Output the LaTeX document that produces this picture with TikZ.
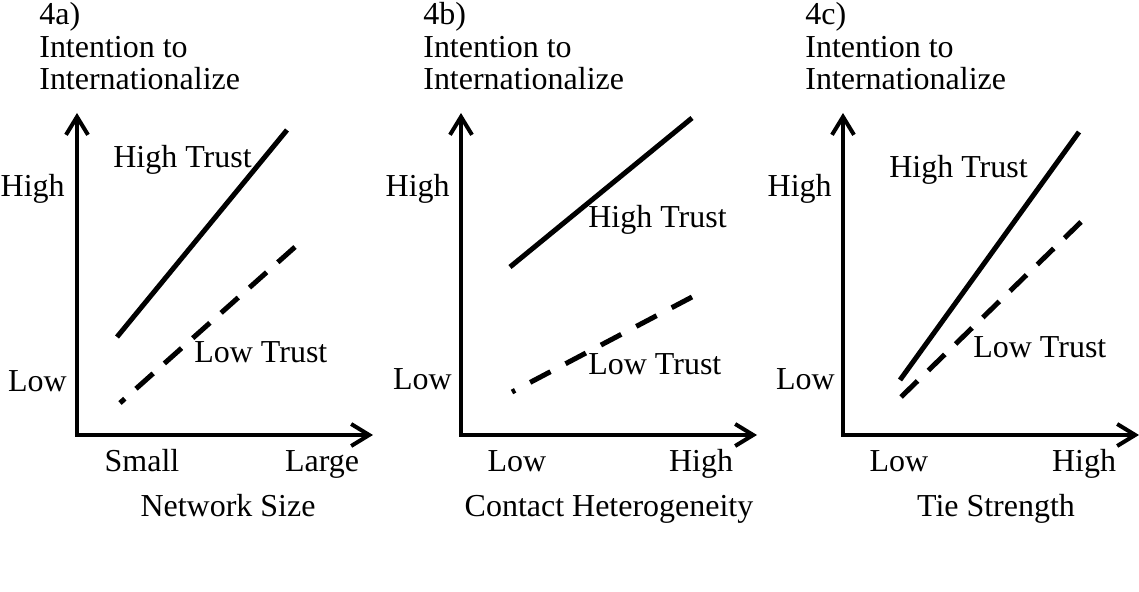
\documentclass[tikz,border=0pt]{standalone}
\usepackage{fontspec}
\setmainfont{Liberation Serif}
\usetikzlibrary{arrows.meta}

\begin{document}
\begin{tikzpicture}[
    axis/.style={line width=0.08cm,{Straight Barb[length=0.36cm,width=0.44cm]}-{Straight Barb[length=0.36cm,width=0.44cm]}},
    hightrust/.style={line width=0.1cm},
    lowtrust/.style={line width=0.1cm,dash pattern=on 0.46cm off 0.3cm},
    lbl/.style={inner sep=0pt,font=\fontsize{18.2}{20}\selectfont},
]
    \useasboundingbox (0,0) rectangle (22.78,11.84);

    % 4a) network size
    \begin{scope}[shift={(1.54,3.14)}]
        \coordinate (ao) at (0,0);
        \coordinate (ax) at (5.92,0);
        \coordinate (ay) at (0,6.44);
        \draw[axis] (ay) |- (ax);
        \coordinate (ah1) at (0.8,1.96);
        \coordinate (ah2) at (4.2,6.1);
        \coordinate (al1) at (0.86,0.64);
        \coordinate (al2) at (4.36,3.76);
        \draw[hightrust] (ah1) -- (ah2);
        \draw[lowtrust] (al2) -- (al1);
        \node[lbl,anchor=base west] (ahtxt) at (0.72,5.34) {High Trust};
        \node[lbl,anchor=base west] (altxt) at (2.34,1.44) {Low Trust};
        \node[lbl,anchor=base east] (ayhi) at (-0.24,4.76) {High};
        \node[lbl,anchor=base east] (aylo) at (-0.2,0.86) {Low};
        \node[lbl,anchor=base] (axlo) at (1.3,-0.74) {Small};
        \node[lbl,anchor=base] (axhi) at (4.9,-0.74) {Large};
        \node[lbl,anchor=base] (axname) at (3.02,-1.64) {Network Size};
        \node[lbl,anchor=base west] (atag) at (-0.76,8.2) {4a)};
        \node[lbl,anchor=base west] (ay1) at (-0.76,7.54) {Intention to};
        \node[lbl,anchor=base west] (ay2) at (-0.76,6.9) {Internationalize};
    \end{scope}

    % 4b) contact heterogeneity
    \begin{scope}[shift={(9.22,3.14)}]
        \coordinate (bo) at (0,0);
        \coordinate (bx) at (5.92,0);
        \coordinate (by) at (0,6.44);
        \draw[axis] (by) |- (bx);
        \coordinate (bh1) at (0.98,3.36);
        \coordinate (bh2) at (4.62,6.34);
        \coordinate (bl1) at (1.02,0.86);
        \coordinate (bl2) at (4.62,2.76);
        \draw[hightrust] (bh1) -- (bh2);
        \draw[lowtrust,dash pattern=on 0.46cm off 0.34cm] (bl2) -- (bl1);
        \node[lbl,anchor=base west] (bhtxt) at (2.54,4.14) {High Trust};
        \node[lbl,anchor=base west] (bltxt) at (2.54,1.2) {Low Trust};
        \node[lbl,anchor=base east] (byhi) at (-0.22,4.76) {High};
        \node[lbl,anchor=base east] (bylo) at (-0.18,0.9) {Low};
        \node[lbl,anchor=base] (bxlo) at (1.12,-0.74) {Low};
        \node[lbl,anchor=base] (bxhi) at (4.8,-0.74) {High};
        \node[lbl,anchor=base] (bxname) at (2.96,-1.64) {Contact Heterogeneity};
        \node[lbl,anchor=base west] (btag) at (-0.76,8.2) {4b)};
        \node[lbl,anchor=base west] (by1) at (-0.76,7.54) {Intention to};
        \node[lbl,anchor=base west] (by2) at (-0.76,6.9) {Internationalize};
    \end{scope}

    % 4c) tie strength
    \begin{scope}[shift={(16.86,3.14)}]
        \coordinate (co) at (0,0);
        \coordinate (cx) at (5.92,0);
        \coordinate (cy) at (0,6.44);
        \draw[axis] (cy) |- (cx);
        \coordinate (ch1) at (1.14,1.1);
        \coordinate (ch2) at (4.72,6.06);
        \coordinate (cl1) at (1.14,0.74);
        \coordinate (cl2) at (4.76,4.26);
        \draw[hightrust] (ch1) -- (ch2);
        \draw[lowtrust] (cl2) -- (cl1);
        \node[lbl,anchor=base west] (chtxt) at (0.92,5.14) {High Trust};
        \node[lbl,anchor=base west] (cltxt) at (2.6,1.54) {Low Trust};
        \node[lbl,anchor=base east] (cyhi) at (-0.22,4.76) {High};
        \node[lbl,anchor=base east] (cylo) at (-0.16,0.9) {Low};
        \node[lbl,anchor=base] (cxlo) at (1.12,-0.74) {Low};
        \node[lbl,anchor=base] (cxhi) at (4.82,-0.74) {High};
        \node[lbl,anchor=base] (cxname) at (3.06,-1.64) {Tie Strength};
        \node[lbl,anchor=base west] (ctag) at (-0.76,8.2) {4c)};
        \node[lbl,anchor=base west] (cy1) at (-0.76,7.54) {Intention to};
        \node[lbl,anchor=base west] (cy2) at (-0.76,6.9) {Internationalize};
    \end{scope}
\end{tikzpicture}
\end{document}
